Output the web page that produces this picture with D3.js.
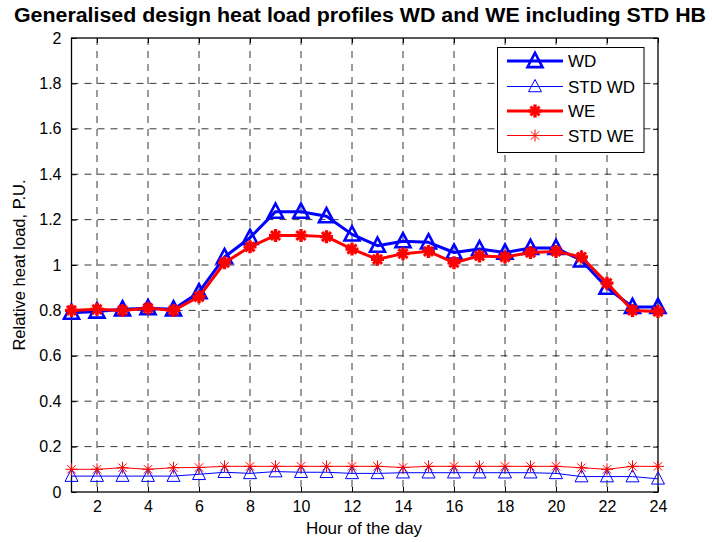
<!DOCTYPE html>
<html><head><meta charset="utf-8">
<script src="https://cdn.jsdelivr.net/npm/d3@7"></script>
<style>body{margin:0;background:#fff}svg{display:block}text{font-family:"Liberation Sans",Arial,sans-serif}</style>
</head><body><div id="c"></div>
<script>
const hours = d3.range(1, 25);
const wd    = [0.79,0.795,0.805,0.81,0.805,0.88,1.035,1.12,1.235,1.235,1.215,1.135,1.085,1.105,1.10,1.055,1.07,1.055,1.075,1.075,1.02,0.90,0.815,0.815];
const stdWd = [0.07,0.07,0.07,0.07,0.07,0.078,0.087,0.082,0.09,0.087,0.087,0.082,0.082,0.085,0.085,0.085,0.085,0.085,0.085,0.082,0.068,0.068,0.068,0.058];
const we    = [0.80,0.805,0.80,0.81,0.80,0.86,1.01,1.08,1.13,1.13,1.125,1.07,1.025,1.05,1.06,1.01,1.04,1.035,1.055,1.06,1.035,0.92,0.80,0.795];
const stdWe = [0.10,0.10,0.107,0.10,0.107,0.108,0.113,0.113,0.113,0.113,0.113,0.113,0.113,0.108,0.113,0.113,0.113,0.113,0.113,0.113,0.107,0.10,0.113,0.113];
const xTicks = d3.range(2, 25, 2);
const yTicks = d3.range(0, 2.01, 0.2);
const legendLabels = ["WD","STD WD","WE","STD WE"];
const title = "Generalised design heat load profiles WD and WE including STD HB";

const W=712,H=542, L=71.5, R=658, T=38, B=492;
const svg=d3.select("#c").append("svg").attr("width",W).attr("height",H);
const x=d3.scaleLinear().domain([1,24]).range([L,R]);
const y=d3.scaleLinear().domain([0,2]).range([B,T]);

// grid
const g=svg.append("g");
g.selectAll("line.vx").data(xTicks.filter(d=>d<24)).join("line")
 .attr("x1",d=>x(d)).attr("x2",d=>x(d)).attr("y1",T).attr("y2",B)
 .attr("stroke","#222").attr("stroke-width",0.9).attr("stroke-dasharray","7,6");
g.selectAll("line.hy").data(yTicks.filter(d=>d>0.01&&d<1.99)).join("line")
 .attr("y1",d=>y(d)).attr("y2",d=>y(d)).attr("x1",L).attr("x2",R)
 .attr("stroke","#222").attr("stroke-width",0.9).attr("stroke-dasharray","7,6");

// axes
const fs=16;
const xa=svg.append("g").attr("transform",`translate(0,${B})`).call(d3.axisBottom(x).tickValues(xTicks).tickSize(-5).tickPadding(9));
const xt=svg.append("g").attr("transform",`translate(0,${T})`).call(d3.axisTop(x).tickValues(xTicks).tickSize(-5).tickFormat(""));
const ya=svg.append("g").attr("transform",`translate(${L},0)`).call(d3.axisLeft(y).tickValues(yTicks).tickSize(-5).tickPadding(10).tickFormat(d=>d3.format("~g")(+d.toFixed(1))));
const yr=svg.append("g").attr("transform",`translate(${R},0)`).call(d3.axisRight(y).tickValues(yTicks).tickSize(-5).tickFormat(""));
[xa,xt,ya,yr].forEach(a=>{a.select(".domain").remove();a.selectAll("line").attr("stroke","#000");a.selectAll("text").attr("font-size",fs).attr("fill","#000").attr("font-family","Liberation Sans, Arial, sans-serif");});
svg.append("rect").attr("x",L).attr("y",T).attr("width",R-L).attr("height",B-T).attr("fill","none").attr("stroke","#000").attr("stroke-width",1.3);

// markers
function tri(sel, cx, cy, s, sw, color){
  const h=s*0.9;
  sel.append("path").attr("d",`M${cx},${cy-h*0.6}L${cx+s/2},${cy+h*0.45}L${cx-s/2},${cy+h*0.45}Z`)
   .attr("fill","none").attr("stroke",color).attr("stroke-width",sw).attr("stroke-linejoin","miter");
}
function star(sel, cx, cy, s, sw, color, dsw){
  const r=s/2, d=r*0.7;
  sel.append("path").attr("d",`M${cx-r},${cy}L${cx+r},${cy}M${cx},${cy-r}L${cx},${cy+r}`).attr("stroke",color).attr("stroke-width",sw).attr("fill","none");
  sel.append("path").attr("d",`M${cx-d},${cy-d}L${cx+d},${cy+d}M${cx-d},${cy+d}L${cx+d},${cy-d}`).attr("stroke",color).attr("stroke-width",dsw).attr("fill","none");
}
const series=[
 {vals:wd, color:"#0000ff", lw:3, mk:(s,cx,cy)=>tri(s,cx,cy,15,2.6,"#0000ff")},
 {vals:stdWd, color:"#0000ff", lw:1, mk:(s,cx,cy)=>tri(s,cx,cy,13,1,"#0000ff")},
 {vals:we, color:"#ff0000", lw:3, mk:(s,cx,cy)=>star(s,cx,cy,13,3.4,"#ff0000",3)},
 {vals:stdWe, color:"#ff0000", lw:1, mk:(s,cx,cy)=>star(s,cx,cy,12,1,"#ff0000",1)}
];
const line=d3.line().x((d,i)=>x(hours[i])).y(d=>y(d));
series.forEach(s=>{
  const gg=svg.append("g");
  gg.append("path").attr("d",line(s.vals)).attr("fill","none").attr("stroke",s.color).attr("stroke-width",s.lw).attr("stroke-linejoin","round");
  s.vals.forEach((v,i)=>s.mk(gg,x(hours[i]),y(v)));
});

// legend
const lg=svg.append("g");
lg.append("rect").attr("x",497.5).attr("y",47.5).attr("width",146.5).attr("height",105).attr("fill","#fff").attr("stroke","#000").attr("stroke-width",1);
const rowsY=[61,86.5,111,135.5];
legendLabels.forEach((lab,i)=>{
  const s=series[i], yy=rowsY[i];
  lg.append("line").attr("x1",507).attr("x2",563).attr("y1",yy).attr("y2",yy).attr("stroke",s.color).attr("stroke-width",s.lw);
  s.mk(lg,535,yy);
  lg.append("text").attr("x",568).attr("y",yy+6).attr("font-size",17).text(lab);
});

// labels
svg.append("text").attr("x",360).attr("y",22).attr("text-anchor","middle").attr("font-size",20).attr("font-weight","bold")
  .attr("textLength",692).attr("lengthAdjust","spacingAndGlyphs").text(title);
svg.append("text").attr("x",364).attr("y",534).attr("text-anchor","middle").attr("font-size",17).text("Hour of the day");
svg.append("text").attr("transform",`translate(25,${(T+B)/2}) rotate(-90)`).attr("text-anchor","middle").attr("font-size",16.5).text("Relative heat load, P.U.");
</script></body></html>
